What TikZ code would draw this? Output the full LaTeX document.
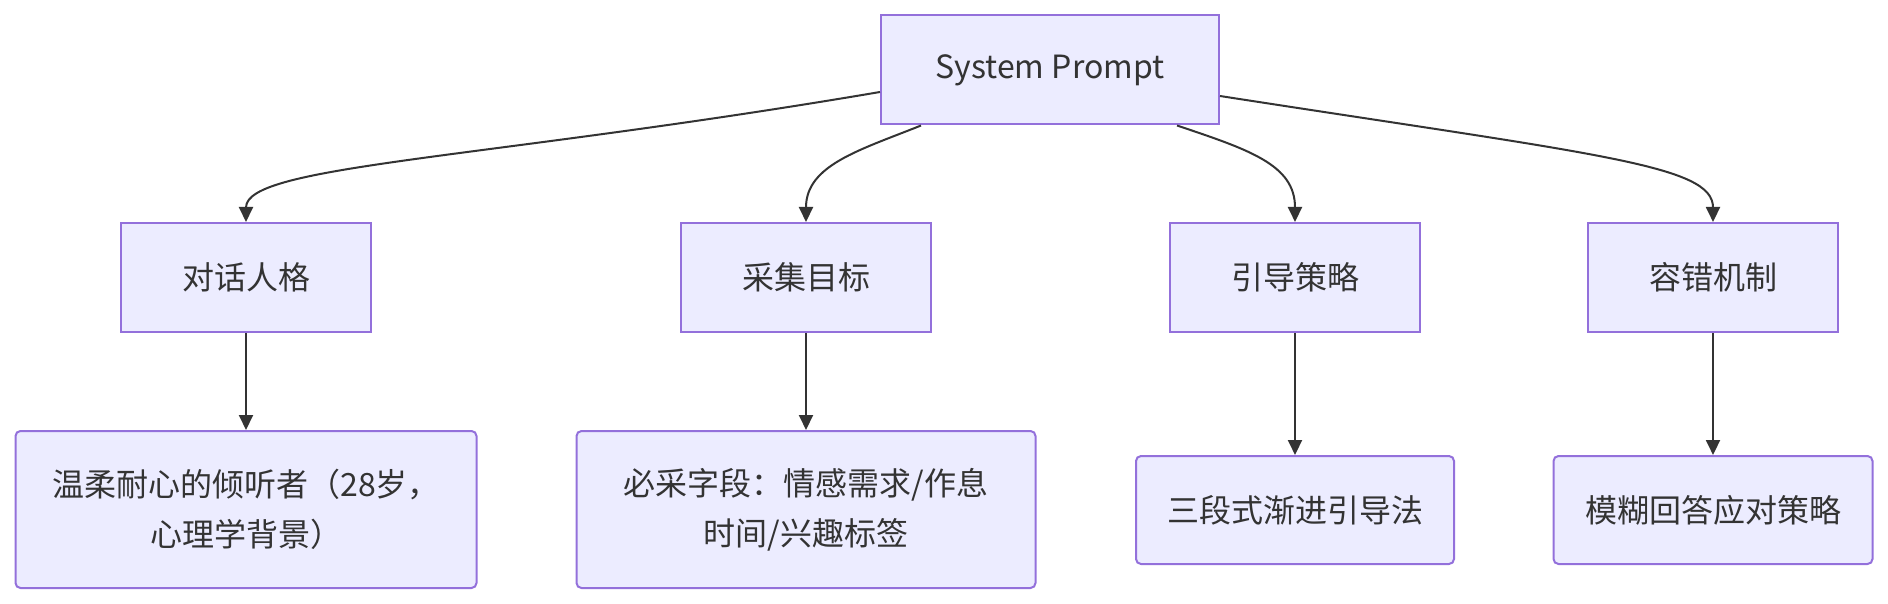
\documentclass[tikz,border=0pt]{standalone}
\usepackage{fontspec}
\setmainfont{Noto Sans CJK SC}
\usetikzlibrary{arrows.meta,calc}
\definecolor{boxfill}{HTML}{ECECFF}
\definecolor{boxline}{HTML}{9370DB}
\definecolor{inkgray}{HTML}{333333}
\tikzset{
	sysbox/.style = {draw = boxline, fill = boxfill, line width = 1pt, text = inkgray, inner sep = 0pt, minimum width = 169pt, minimum height = 54.5pt},
	catbox/.style = {sysbox, minimum width = 125pt},
	leafbox/.style = {sysbox, rounded corners = 2.5pt, align = center},
	link/.style = {draw = inkgray, line width = 1pt, -{Triangle[length = 7.5pt, width = 7pt]}}
}
\begin{document}
\begin{tikzpicture}[x = 0.5pt, y = -0.5pt, font = \fontsize{16pt}{25pt}\selectfont]
	\useasboundingbox (0, 0) rectangle (1888, 604);
	% top
	\node[sysbox] (sys) at (1050, 70) {System Prompt};
	% second row
	\node[catbox] (persona) at (246, 277.5) {对话人格};
	\node[catbox] (target) at (806, 277.5) {采集目标};
	\node[catbox] (guide) at (1295, 277.5) {引导策略};
	\node[catbox] (fault) at (1713, 277.5) {容错机制};
	% bottom row
	\node[leafbox, minimum width = 230.5pt, minimum height = 78.5pt] (listener) at (246, 509.5) {温柔耐心的倾听者（28岁，\\心理学背景）};
	\node[leafbox, minimum width = 229.5pt, minimum height = 78.5pt] (fields) at (806, 509.5) {必采字段：情感需求/作息\\时间/兴趣标签};
	\node[leafbox, minimum width = 159pt, minimum height = 54pt] (threestep) at (1295, 510) {三段式渐进引导法};
	\node[leafbox, minimum width = 159.5pt, minimum height = 54pt] (vague) at (1713, 510) {模糊回答应对策略};
	% links
	\draw[link] ($(sys.west) + (0, 22)$) .. controls (480, 160) and (246, 165) .. (persona.north);
	\draw[link] ($(sys.south) + (-129, 0)$) .. controls (860, 150) and (806, 165) .. (target.north);
	\draw[link] ($(sys.south) + (127, 0)$) .. controls (1250, 150) and (1295, 165) .. (guide.north);
	\draw[link] ($(sys.east) + (0, 26)$) .. controls (1600, 155) and (1713, 165) .. (fault.north);
	\draw[link] (persona) -- (listener);
	\draw[link] (target) -- (fields);
	\draw[link] (guide) -- (threestep);
	\draw[link] (fault) -- (vague);
\end{tikzpicture}
\end{document}
